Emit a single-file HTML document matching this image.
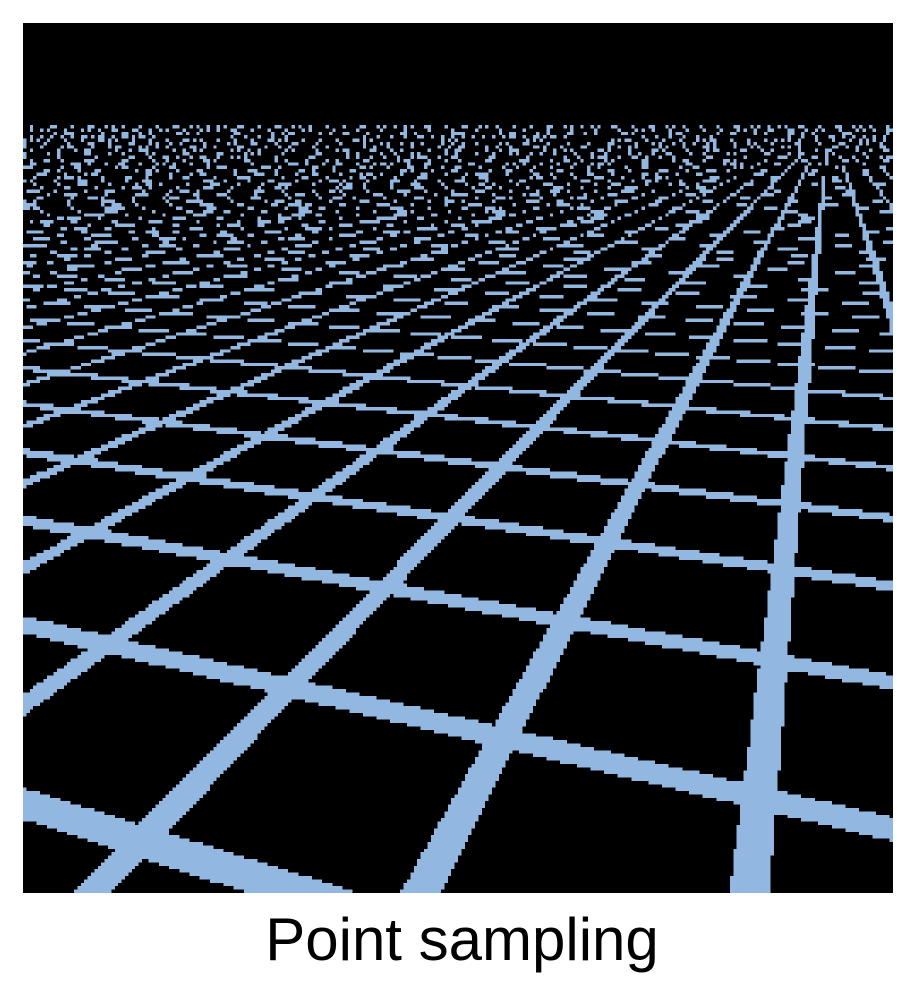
<!DOCTYPE html>
<html><head><meta charset="utf-8">
<style>
html,body{margin:0;padding:0;background:#fff;width:924px;height:1002px;overflow:hidden;}
#render{position:absolute;left:23px;top:23px;width:870px;height:870px;image-rendering:pixelated;background:#000;}
#caption{position:absolute;left:0;width:924px;top:905px;text-align:center;font-family:"Liberation Sans",sans-serif;font-size:60px;line-height:70px;color:#000;}
</style></head>
<body>
<canvas id="render" width="256" height="256"></canvas>
<div id="caption">Point sampling</div>
<script>
// grid parameters (screen-space perspective model)
const horizonY = [125];
const vanishX = [830, -2100];      // longitudinal VP x, cross-line VP x
const spacing = [0.4285, 1.12];    // u, v line spacing
const offsets = [0.3235, 0.89];    // u, v line centre offsets
const widthFrac = [0.122, 0.13];   // line width fraction of spacing
const lineColor = [146, 184, 225];

const cv = document.getElementById('render');
const ctx = cv.getContext('2d');
const N = 256, S = 870 / N;
const img = ctx.createImageData(N, N);
function onLine(val, k) {
  let f = (val - offsets[k]) / spacing[k];
  f = f - Math.round(f);
  return Math.abs(f) < widthFrac[k] / 2;
}
for (let j = 0; j < N; j++) {
  const sy = 23 + (j + 0.5) * S;
  const d = sy - horizonY[0];
  for (let i = 0; i < N; i++) {
    const sx = 23 + (i + 0.5) * S;
    const p = (j * N + i) * 4;
    let hit = false;
    if (d > 0) {
      const u = (sx - vanishX[0]) / d;
      const v = (sx - vanishX[1]) / d;
      hit = onLine(u, 0) || onLine(v, 1);
    }
    img.data[p] = hit ? lineColor[0] : 0;
    img.data[p + 1] = hit ? lineColor[1] : 0;
    img.data[p + 2] = hit ? lineColor[2] : 0;
    img.data[p + 3] = 255;
  }
}
ctx.putImageData(img, 0, 0);
</script>
</body></html>
